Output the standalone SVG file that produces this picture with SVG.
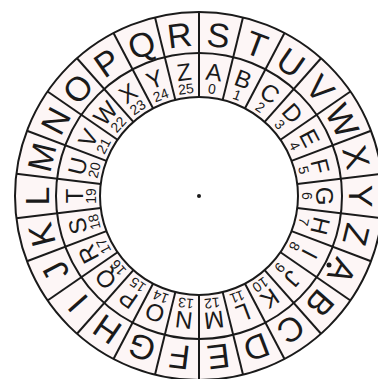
<svg xmlns="http://www.w3.org/2000/svg" width="378" height="379" viewBox="0 0 378 379">
<style>
.ring{fill:#fdf6f6;stroke:#1a1a1a;stroke-width:2}
.line{stroke:#1a1a1a;stroke-width:2}
text{font-family:"Liberation Sans","DejaVu Sans",sans-serif;fill:#1a1a1a;text-anchor:middle;dominant-baseline:central}
.o{font-size:34px}
.i{font-size:24px}
.n{font-size:14px}
</style>
<rect width="378" height="379" fill="#ffffff"/>
<g id="wheel">
<circle class="ring" cx="199" cy="196" r="184"/>
<circle cx="199" cy="196" r="143" fill="none" stroke="#1a1a1a" stroke-width="2"/>
<circle cx="199" cy="196" r="99" fill="#ffffff" stroke="#1a1a1a" stroke-width="2"/>
</g>
<g id="dividers">
<line class="line" x1="199" y1="97" x2="199" y2="12" transform="rotate(0 199 196)"/>
<line class="line" x1="199" y1="97" x2="199" y2="12" transform="rotate(13.846 199 196)"/>
<line class="line" x1="199" y1="97" x2="199" y2="12" transform="rotate(27.692 199 196)"/>
<line class="line" x1="199" y1="97" x2="199" y2="12" transform="rotate(41.538 199 196)"/>
<line class="line" x1="199" y1="97" x2="199" y2="12" transform="rotate(55.385 199 196)"/>
<line class="line" x1="199" y1="97" x2="199" y2="12" transform="rotate(69.231 199 196)"/>
<line class="line" x1="199" y1="97" x2="199" y2="12" transform="rotate(83.077 199 196)"/>
<line class="line" x1="199" y1="97" x2="199" y2="12" transform="rotate(96.923 199 196)"/>
<line class="line" x1="199" y1="97" x2="199" y2="12" transform="rotate(110.769 199 196)"/>
<line class="line" x1="199" y1="97" x2="199" y2="12" transform="rotate(124.615 199 196)"/>
<line class="line" x1="199" y1="97" x2="199" y2="12" transform="rotate(138.462 199 196)"/>
<line class="line" x1="199" y1="97" x2="199" y2="12" transform="rotate(152.308 199 196)"/>
<line class="line" x1="199" y1="97" x2="199" y2="12" transform="rotate(166.154 199 196)"/>
<line class="line" x1="199" y1="97" x2="199" y2="12" transform="rotate(180 199 196)"/>
<line class="line" x1="199" y1="97" x2="199" y2="12" transform="rotate(193.846 199 196)"/>
<line class="line" x1="199" y1="97" x2="199" y2="12" transform="rotate(207.692 199 196)"/>
<line class="line" x1="199" y1="97" x2="199" y2="12" transform="rotate(221.538 199 196)"/>
<line class="line" x1="199" y1="97" x2="199" y2="12" transform="rotate(235.385 199 196)"/>
<line class="line" x1="199" y1="97" x2="199" y2="12" transform="rotate(249.231 199 196)"/>
<line class="line" x1="199" y1="97" x2="199" y2="12" transform="rotate(263.077 199 196)"/>
<line class="line" x1="199" y1="97" x2="199" y2="12" transform="rotate(276.923 199 196)"/>
<line class="line" x1="199" y1="97" x2="199" y2="12" transform="rotate(290.769 199 196)"/>
<line class="line" x1="199" y1="97" x2="199" y2="12" transform="rotate(304.615 199 196)"/>
<line class="line" x1="199" y1="97" x2="199" y2="12" transform="rotate(318.462 199 196)"/>
<line class="line" x1="199" y1="97" x2="199" y2="12" transform="rotate(332.308 199 196)"/>
<line class="line" x1="199" y1="97" x2="199" y2="12" transform="rotate(346.154 199 196)"/>
</g>
<g id="s0" transform="rotate(6.923 199 196)"><text class="o" x="199" y="34">S</text><text class="i" x="199" y="71">A</text><text class="n" x="199" y="88">0</text></g>
<g id="s1" transform="rotate(20.769 199 196)"><text class="o" x="199" y="34">T</text><text class="i" x="199" y="71">B</text><text class="n" x="199" y="88">1</text></g>
<g id="s2" transform="rotate(34.615 199 196)"><text class="o" x="199" y="34">U</text><text class="i" x="199" y="71">C</text><text class="n" x="199" y="88">2</text></g>
<g id="s3" transform="rotate(48.462 199 196)"><text class="o" x="199" y="34">V</text><text class="i" x="199" y="71">D</text><text class="n" x="199" y="88">3</text></g>
<g id="s4" transform="rotate(62.308 199 196)"><text class="o" x="199" y="34">W</text><text class="i" x="199" y="71">E</text><text class="n" x="199" y="88">4</text></g>
<g id="s5" transform="rotate(76.154 199 196)"><text class="o" x="199" y="34">X</text><text class="i" x="199" y="71">F</text><text class="n" x="199" y="88">5</text></g>
<g id="s6" transform="rotate(90 199 196)"><text class="o" x="199" y="34">Y</text><text class="i" x="199" y="71">G</text><text class="n" x="199" y="88">6</text></g>
<g id="s7" transform="rotate(103.846 199 196)"><text class="o" x="199" y="34">Z</text><text class="i" x="199" y="71">H</text><text class="n" x="199" y="88">7</text></g>
<g id="s8" transform="rotate(117.692 199 196)"><text class="o" x="199" y="34">A</text><text class="i" x="199" y="71">I</text><text class="n" x="199" y="88">8</text></g>
<g id="s9" transform="rotate(131.538 199 196)"><text class="o" x="199" y="34">B</text><text class="i" x="199" y="71">J</text><text class="n" x="199" y="88">9</text></g>
<g id="s10" transform="rotate(145.385 199 196)"><text class="o" x="199" y="34">C</text><text class="i" x="199" y="71">K</text><text class="n" x="199" y="88">10</text></g>
<g id="s11" transform="rotate(159.231 199 196)"><text class="o" x="199" y="34">D</text><text class="i" x="199" y="71">L</text><text class="n" x="199" y="88">11</text></g>
<g id="s12" transform="rotate(173.077 199 196)"><text class="o" x="199" y="34">E</text><text class="i" x="199" y="71">M</text><text class="n" x="199" y="88">12</text></g>
<g id="s13" transform="rotate(186.923 199 196)"><text class="o" x="199" y="34">F</text><text class="i" x="199" y="71">N</text><text class="n" x="199" y="88">13</text></g>
<g id="s14" transform="rotate(200.769 199 196)"><text class="o" x="199" y="34">G</text><text class="i" x="199" y="71">O</text><text class="n" x="199" y="88">14</text></g>
<g id="s15" transform="rotate(214.615 199 196)"><text class="o" x="199" y="34">H</text><text class="i" x="199" y="71">P</text><text class="n" x="199" y="88">15</text></g>
<g id="s16" transform="rotate(228.462 199 196)"><text class="o" x="199" y="34">I</text><text class="i" x="199" y="71">Q</text><text class="n" x="199" y="88">16</text></g>
<g id="s17" transform="rotate(242.308 199 196)"><text class="o" x="199" y="34">J</text><text class="i" x="199" y="71">R</text><text class="n" x="199" y="88">17</text></g>
<g id="s18" transform="rotate(256.154 199 196)"><text class="o" x="199" y="34">K</text><text class="i" x="199" y="71">S</text><text class="n" x="199" y="88">18</text></g>
<g id="s19" transform="rotate(270 199 196)"><text class="o" x="199" y="34">L</text><text class="i" x="199" y="71">T</text><text class="n" x="199" y="88">19</text></g>
<g id="s20" transform="rotate(283.846 199 196)"><text class="o" x="199" y="34">M</text><text class="i" x="199" y="71">U</text><text class="n" x="199" y="88">20</text></g>
<g id="s21" transform="rotate(297.692 199 196)"><text class="o" x="199" y="34">N</text><text class="i" x="199" y="71">V</text><text class="n" x="199" y="88">21</text></g>
<g id="s22" transform="rotate(311.538 199 196)"><text class="o" x="199" y="34">O</text><text class="i" x="199" y="71">W</text><text class="n" x="199" y="88">22</text></g>
<g id="s23" transform="rotate(325.385 199 196)"><text class="o" x="199" y="34">P</text><text class="i" x="199" y="71">X</text><text class="n" x="199" y="88">23</text></g>
<g id="s24" transform="rotate(339.231 199 196)"><text class="o" x="199" y="34">Q</text><text class="i" x="199" y="71">Y</text><text class="n" x="199" y="88">24</text></g>
<g id="s25" transform="rotate(353.077 199 196)"><text class="o" x="199" y="34">R</text><text class="i" x="199" y="71">Z</text><text class="n" x="199" y="88">25</text></g>
<circle id="center-dot" cx="199" cy="196" r="2" fill="#1a1a1a"/>
<circle id="mark-dot" cx="329" cy="265" r="2.5" fill="#1a1a1a"/>
</svg>
